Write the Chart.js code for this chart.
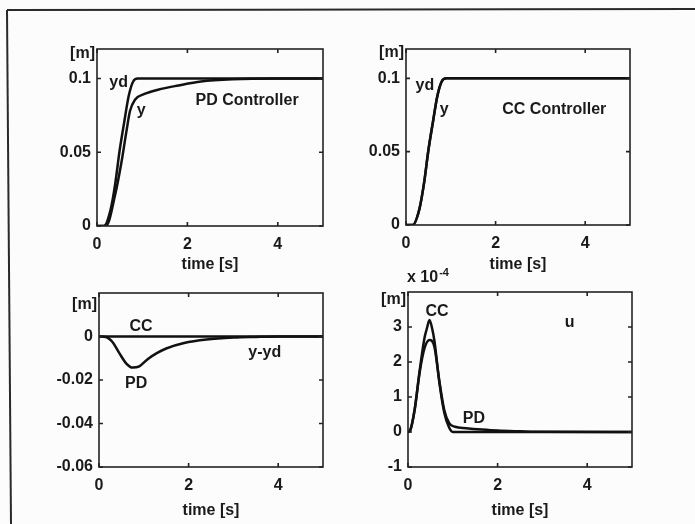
<!DOCTYPE html>
<html>
<head>
<meta charset="utf-8">
<script src="https://cdn.jsdelivr.net/npm/chart.js@4.4.0/dist/chart.umd.min.js"></script>
<style>
  html, body { margin: 0; padding: 0; background: #fcfcfc; }
  #page { position: relative; width: 695px; height: 524px; overflow: hidden; background: #fcfcfc; }
  #frame { position: absolute; left: 0; top: 0; }
  canvas { position: absolute; }
</style>
</head>
<body>
<div id="page">
  <svg id="frame" width="695" height="524">
    <line x1="7" y1="10" x2="695" y2="9" stroke="#2a2a2a" stroke-width="2"/>
    <line x1="7" y1="10" x2="11" y2="524" stroke="#2a2a2a" stroke-width="2"/>
  </svg>
  <canvas id="posPD"></canvas>
  <canvas id="posCC"></canvas>
  <canvas id="errPlot"></canvas>
  <canvas id="uPlot"></canvas>
</div>
<script>
// desired trajectory (same in both top plots)
const timeYd = [0, 0.15, 0.3, 0.4, 0.5, 0.6, 0.7, 0.8, 0.9, 5];
const posYd  = [0, 0, 0.011, 0.028, 0.051, 0.07, 0.088, 0.098, 0.1, 0.1];

// PD response
const timePD = [0, 0.2, 0.4, 0.54, 0.65, 0.73, 0.84, 1.05, 1.35, 1.8, 2.3, 3, 4, 5];
const posPD  = [0, 0, 0.021, 0.043, 0.064, 0.078, 0.0856, 0.0895, 0.0924, 0.0953, 0.098, 0.0995, 0.1, 0.1];

// tracking error y-yd
const timeErr = [0, 0.15, 0.3, 0.45, 0.6, 0.75, 0.9, 1.1, 1.3, 1.5, 1.9, 2.4, 3, 3.5, 4, 5];
const errPD   = [0, -0.0002, -0.0025, -0.0075, -0.0122, -0.0143, -0.0137, -0.0102, -0.0075, -0.0055, -0.003, -0.0014, -0.0005, -0.0002, 0, 0];
const errCC   = [0, 0, 0, 0, 0, 0, 0, 0, 0, 0, 0, 0, 0, 0, 0, 0];

// control input u (x 1e-4)
const timeUCC = [0, 0.05, 0.15, 0.26, 0.37, 0.42, 0.48, 0.54, 0.59, 0.7, 0.81, 0.92, 1.0, 5];
const uCC     = [0, 0.05, 0.65, 1.75, 2.7, 2.95, 3.2, 2.95, 2.6, 1.42, 0.55, 0.12, 0, 0];
const timeUPD = [0, 0.05, 0.15, 0.26, 0.37, 0.48, 0.59, 0.7, 0.81, 0.92, 1.05, 1.3, 1.65, 2.0, 2.5, 3, 5];
const uPD     = [0, 0.05, 0.65, 1.7, 2.4, 2.63, 2.43, 1.45, 0.62, 0.25, 0.15, 0.11, 0.07, 0.04, 0.02, 0.005, 0];

const xTicks   = [0, 2, 4];
const posTicks = [0, 0.05, 0.1];
const errTicks = [-0.06, -0.04, -0.02, 0];
const uTicks   = [-1, 0, 1, 2, 3];

const INK = '#1a1a1a';
const FONT = { family: 'Arial, "Liberation Sans", sans-serif', size: 16, weight: 'bold' };
const extras = {};

function pts(xs, ys) {
    return xs.map((x, i) => ({ x: x, y: ys[i] }));
}

const boxPlugin = {
    id: 'matlabBox',
    afterDatasetsDraw(chart) {
        const { ctx, chartArea: a, scales: { x, y } } = chart;
        const ex = extras[chart.canvas.id] || {};
        ctx.save();
        ctx.strokeStyle = '#222';
        ctx.lineWidth = 1.6;
        ctx.strokeRect(a.left, a.top, a.right - a.left, a.bottom - a.top);
        ctx.beginPath();
        x.ticks.forEach(t => {
            const px = x.getPixelForValue(t.value);
            ctx.moveTo(px, a.bottom); ctx.lineTo(px, a.bottom - 4);
            ctx.moveTo(px, a.top); ctx.lineTo(px, a.top + 4);
        });
        y.ticks.forEach(t => {
            const py = y.getPixelForValue(t.value);
            ctx.moveTo(a.left, py); ctx.lineTo(a.left + 4, py);
            ctx.moveTo(a.right, py); ctx.lineTo(a.right - 4, py);
        });
        ctx.stroke();

        ctx.fillStyle = INK;
        ctx.font = `${FONT.weight} ${FONT.size}px ${FONT.family}`;
        ctx.textAlign = 'center';
        ctx.textBaseline = 'middle';
        (ex.notes || []).forEach(n => {
            ctx.fillText(n.text, x.getPixelForValue(n.x), y.getPixelForValue(n.y));
        });
        // unit label at the top of the y axis
        ctx.textAlign = 'right';
        ctx.fillText('[m]', a.left - 2, a.top + (ex.unitDy || 5));
        if (ex.exponent) {
            ctx.textAlign = 'left';
            ctx.fillText('x 10', a.left - 1, a.top - 14);
            const w = ctx.measureText('x 10').width;
            ctx.font = `${FONT.weight} 11px ${FONT.family}`;
            ctx.fillText(ex.exponent, a.left + w, a.top - 19);
        }
        ctx.restore();
    }
};

function makePlot(id, box, datasets, yMin, yMax, yTicks, ex) {
    const canvas = document.getElementById(id);
    const padL = 60, padR = 12, padT = 25, padB = box.xh;
    canvas.width = box.r - box.l + padL + padR;
    canvas.height = box.b - box.t + padT + padB;
    canvas.style.left = (box.l - padL) + 'px';
    canvas.style.top = (box.t - padT) + 'px';
    extras[id] = ex;

    new Chart(canvas, {
        type: 'line',
        data: { datasets: datasets },
        options: {
            responsive: false,
            animation: false,
            devicePixelRatio: 1,
            layout: { padding: { left: 0, right: padR, top: padT, bottom: 0 } },
            plugins: { legend: { display: false }, tooltip: { enabled: false } },
            elements: {
                point: { radius: 0 },
                line: { borderWidth: 2.5, borderColor: '#111', cubicInterpolationMode: 'monotone', fill: false }
            },
            scales: {
                x: {
                    type: 'linear', min: 0, max: 5,
                    grid: { display: false, drawTicks: false }, border: { display: false },
                    afterBuildTicks: s => { s.ticks = xTicks.map(v => ({ value: v })); },
                    afterFit: s => { s.height = padB; },
                    ticks: { padding: 9, color: INK, font: FONT, maxRotation: 0, callback: v => String(v) },
                    title: { display: true, text: 'time [s]', padding: 0, color: INK, font: FONT }
                },
                y: {
                    type: 'linear', min: yMin, max: yMax,
                    grid: { display: false, drawTicks: false }, border: { display: false },
                    afterBuildTicks: s => { s.ticks = yTicks.map(v => ({ value: v })); },
                    afterFit: s => { s.width = padL; },
                    ticks: { padding: 6, color: INK, font: FONT, callback: v => String(v) }
                }
            }
        },
        plugins: [boxPlugin]
    });
}

document.addEventListener('DOMContentLoaded', () => {
    makePlot('posPD', { l: 97, r: 323, t: 49, b: 226, xh: 48 }, [
        { data: pts(timeYd, posYd) },
        { data: pts(timePD, posPD) }
    ], 0, 0.12, posTicks, {
        unitDy: 5,
        notes: [
            { text: 'yd', x: 0.48, y: 0.0973 },
            { text: 'y', x: 0.98, y: 0.078 },
            { text: 'PD Controller', x: 3.32, y: 0.085 }
        ]
    });

    makePlot('posCC', { l: 406, r: 630, t: 49, b: 225, xh: 49 }, [
        { data: pts(timeYd, posYd) },
        { data: pts(timeYd, posYd) }
    ], 0, 0.12, posTicks, {
        unitDy: 4,
        notes: [
            { text: 'yd', x: 0.42, y: 0.095 },
            { text: 'y', x: 0.85, y: 0.079 },
            { text: 'CC Controller', x: 3.31, y: 0.079 }
        ]
    });

    makePlot('errPlot', { l: 99, r: 323, t: 293, b: 467, xh: 53 }, [
        { data: pts(timeErr, errCC) },
        { data: pts(timeErr, errPD) }
    ], -0.06, 0.02, errTicks, {
        unitDy: 12,
        notes: [
            { text: 'CC', x: 0.94, y: 0.0044 },
            { text: 'PD', x: 0.83, y: -0.0218 },
            { text: 'y-yd', x: 3.7, y: -0.0075 }
        ]
    });

    makePlot('uPlot', { l: 408, r: 632, t: 292, b: 467, xh: 53 }, [
        { data: pts(timeUCC, uCC) },
        { data: pts(timeUPD, uPD) }
    ], -1, 4, uTicks, {
        unitDy: 8,
        exponent: '-4',
        notes: [
            { text: 'CC', x: 0.65, y: 3.43 },
            { text: 'PD', x: 1.47, y: 0.39 },
            { text: 'u', x: 3.61, y: 3.14 }
        ]
    });
});
</script>
</body>
</html>
